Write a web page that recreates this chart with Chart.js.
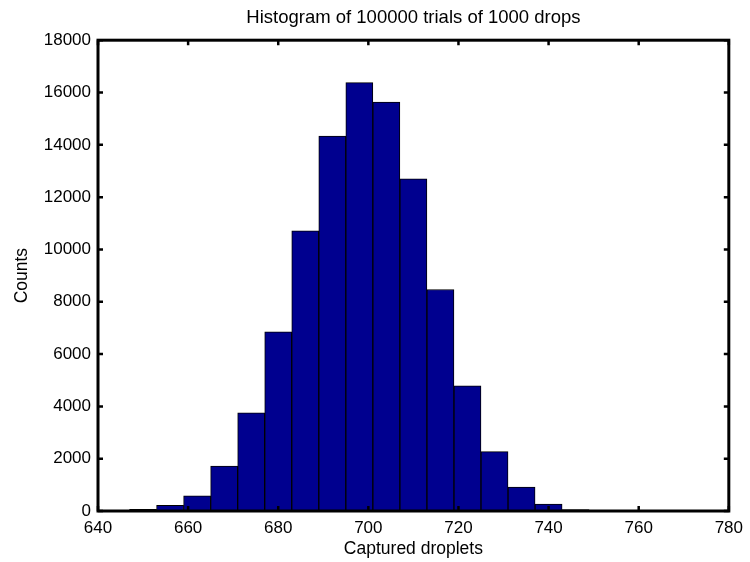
<!DOCTYPE html>
<html>
<head>
<meta charset="utf-8">
<script src="https://cdn.jsdelivr.net/npm/chart.js@4"></script>
<style>
  html, body { margin: 0; padding: 0; background: #fff; }
  #wrap { width: 750px; height: 562px; }
</style>
</head>
<body>
<div id="wrap"><canvas id="histChart"></canvas></div>
<script>
// bin centres (width 6) and counts per bin
const binCenters = [650, 656, 662, 668, 674, 680, 686, 692, 698, 704, 710, 716, 722, 728, 734, 740, 746];
const counts = [60, 220, 580, 1720, 3750, 6850, 10710, 14330, 16380, 15630, 12700, 8470, 4790, 2270, 910, 260, 50];

const xRange = [640, 780];
const xStep = 20;
const yRange = [0, 18000];
const yStep = 2000;

const FONT = '"Liberation Sans", Arial, Helvetica, sans-serif';

// box around the plot with inward tick marks on all four sides
const axesBox = {
    id: 'axesBox',
    afterDatasetsDraw(chart) {
        const { ctx, chartArea: a, scales: { x, y } } = chart;
        const len = 5;
        ctx.save();
        ctx.strokeStyle = '#000';
        ctx.lineWidth = 2.5;
        ctx.beginPath();
        x.ticks.forEach((t, i) => {
            const px = x.getPixelForTick(i);
            ctx.moveTo(px, a.bottom); ctx.lineTo(px, a.bottom - len);
            ctx.moveTo(px, a.top); ctx.lineTo(px, a.top + len);
        });
        y.ticks.forEach((t, i) => {
            const py = y.getPixelForTick(i);
            ctx.moveTo(a.left, py); ctx.lineTo(a.left + len, py);
            ctx.moveTo(a.right, py); ctx.lineTo(a.right - len, py);
        });
        ctx.stroke();
        ctx.lineWidth = 3;
        ctx.strokeRect(a.left, a.top, a.right - a.left, a.bottom - a.top);
        ctx.restore();
    }
};

new Chart(document.getElementById('histChart'), {
    type: 'bar',
    data: {
        datasets: [{
            label: 'Counts',
            data: binCenters.map((c, i) => ({ x: c, y: counts[i] })),
            backgroundColor: '#00008f',
            borderColor: '#000',
            borderWidth: 1,
            borderSkipped: false,
            barPercentage: 1,
            categoryPercentage: 1
        }]
    },
    options: {
        responsive: true,
        maintainAspectRatio: false,
        animation: false,
        layout: { padding: { left: 0, right: 18, top: 0, bottom: 0 } },
        plugins: {
            legend: { display: false },
            tooltip: { enabled: false },
            title: {
                display: true,
                fullSize: false,
                text: 'Histogram of 100000 trials of 1000 drops',
                color: '#000',
                font: { family: FONT, size: 18.5, weight: 'normal' },
                padding: { top: 7, bottom: 11 }
            }
        },
        scales: {
            x: {
                type: 'linear',
                offset: false,
                min: xRange[0],
                max: xRange[1],
                grid: { display: false, drawTicks: false },
                border: { display: false },
                ticks: {
                    stepSize: xStep,
                    color: '#000',
                    padding: 7,
                    maxRotation: 0,
                    font: { family: FONT, size: 17 },
                    callback: v => String(v)
                },
                title: {
                    display: true,
                    text: 'Captured droplets',
                    color: '#000',
                    font: { family: FONT, size: 17.5 },
                    padding: { top: 0, bottom: 2.5 }
                },
                afterFit(scale) { scale.height = 51; }
            },
            y: {
                min: yRange[0],
                max: yRange[1],
                grid: { display: false, drawTicks: false },
                border: { display: false },
                ticks: {
                    stepSize: yStep,
                    color: '#000',
                    padding: 7,
                    font: { family: FONT, size: 17 },
                    callback: v => String(v)
                },
                title: {
                    display: true,
                    text: 'Counts',
                    color: '#000',
                    font: { family: FONT, size: 17.5 },
                    padding: { top: 11.5, bottom: 0 }
                },
                afterFit(scale) { scale.width = 98; }
            }
        }
    },
    plugins: [axesBox]
});
</script>
</body>
</html>
